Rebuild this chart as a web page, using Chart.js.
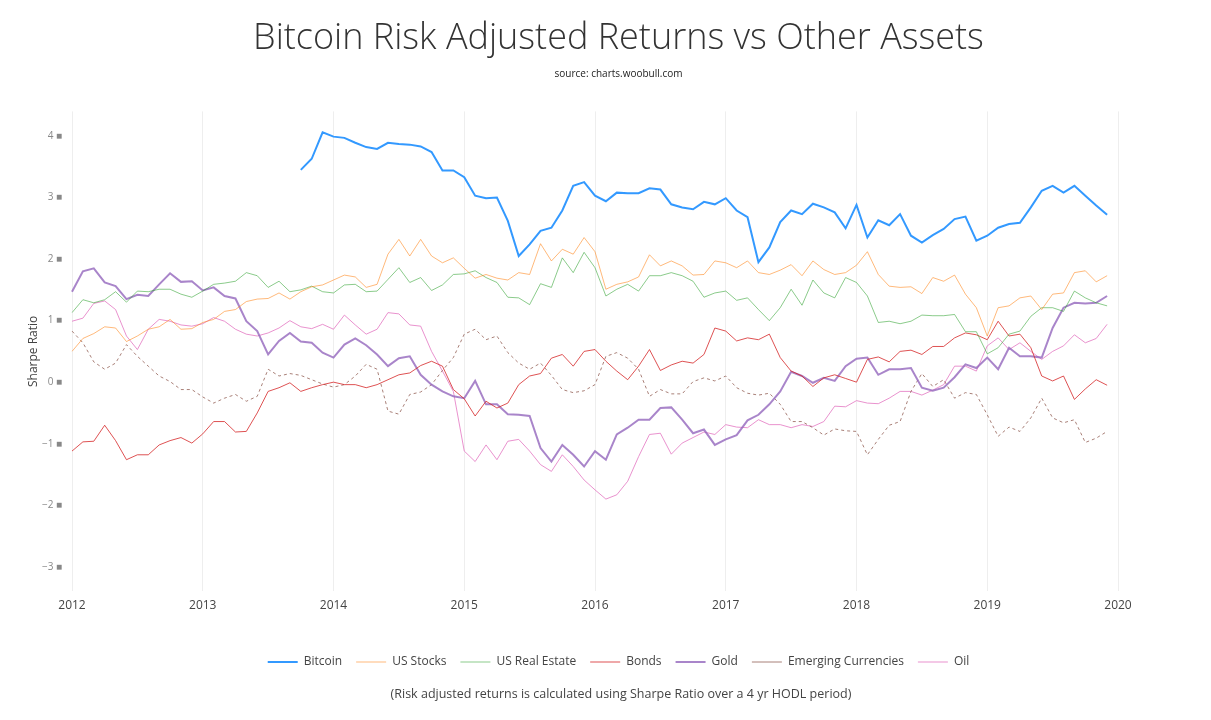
<!DOCTYPE html>
<html>
<head>
<meta charset="utf-8">
<script src="https://cdn.jsdelivr.net/npm/chart.js@4.4.1/dist/chart.umd.min.js"></script>
<style>
  html, body { margin: 0; padding: 0; background: #fff; }
  #wrap { width: 1211px; height: 720px; }
</style>
</head>
<body>
<div id="wrap"><canvas id="riskChart" width="1211" height="720"></canvas></div>
<script>
// monthly samples, Jan 2012 .. Jan 2020
const years = [2012, 2013, 2014, 2015, 2016, 2017, 2018, 2019];
const monthNames = ['01', '02', '03', '04', '05', '06', '07', '08', '09', '10', '11', '12'];
const months = [];
years.forEach(y => monthNames.forEach(m => months.push(y + '-' + m)));
months.push('2020-01');

const bitcoin = [
  null, null, null, null, null, null, null, null, null, null, null, null,
  null, null, null, null, null, null, null, null, null, 3.45, 3.63, 4.06,
  3.99, 3.97, 3.89, 3.82, 3.79, 3.89, 3.87, 3.86, 3.83, 3.74, 3.44, 3.44,
  3.33, 3.03, 2.99, 3.00, 2.62, 2.05, 2.24, 2.46, 2.51, 2.79, 3.19, 3.25,
  3.03, 2.94, 3.08, 3.07, 3.07, 3.15, 3.13, 2.89, 2.84, 2.81, 2.93, 2.89,
  2.99, 2.79, 2.68, 1.95, 2.19, 2.60, 2.79, 2.73, 2.90, 2.84, 2.76, 2.50,
  2.88, 2.35, 2.63, 2.55, 2.73, 2.38, 2.27, 2.39, 2.49, 2.65, 2.69, 2.30,
  2.38, 2.51, 2.57, 2.59, 2.84, 3.11, 3.19, 3.08, 3.19, 3.03, 2.87, 2.72,
  null
];
const usStocks = [
  0.50, 0.71, 0.79, 0.90, 0.88, 0.66, 0.75, 0.86, 0.90, 1.02, 0.86, 0.87,
  0.97, 1.02, 1.15, 1.18, 1.31, 1.35, 1.36, 1.45, 1.35, 1.47, 1.55, 1.58,
  1.66, 1.74, 1.71, 1.54, 1.59, 2.08, 2.32, 2.05, 2.32, 2.05, 1.94, 2.02,
  1.85, 1.69, 1.75, 1.69, 1.66, 1.78, 1.75, 2.25, 1.97, 2.16, 2.08, 2.35,
  2.12, 1.51, 1.59, 1.63, 1.71, 2.07, 1.89, 1.97, 1.89, 1.74, 1.75, 1.97,
  1.94, 1.86, 1.97, 1.78, 1.75, 1.82, 1.91, 1.73, 1.97, 1.83, 1.75, 1.78,
  1.90, 2.12, 1.75, 1.56, 1.54, 1.55, 1.44, 1.70, 1.64, 1.74, 1.43, 1.21,
  0.75, 1.21, 1.24, 1.37, 1.40, 1.18, 1.43, 1.45, 1.78, 1.81, 1.63, 1.73,
  null
];
const usRealEstate = [
  1.13, 1.34, 1.29, 1.34, 1.47, 1.30, 1.48, 1.47, 1.51, 1.51, 1.43, 1.38,
  1.48, 1.59, 1.61, 1.64, 1.78, 1.73, 1.54, 1.64, 1.47, 1.50, 1.56, 1.47,
  1.45, 1.58, 1.59, 1.47, 1.48, 1.67, 1.86, 1.62, 1.70, 1.49, 1.58, 1.75,
  1.76, 1.81, 1.70, 1.62, 1.38, 1.37, 1.26, 1.60, 1.54, 2.02, 1.78, 2.11,
  1.86, 1.40, 1.51, 1.59, 1.48, 1.73, 1.73, 1.78, 1.73, 1.64, 1.38, 1.45,
  1.48, 1.33, 1.37, 1.18, 1.00, 1.21, 1.51, 1.25, 1.66, 1.45, 1.37, 1.70,
  1.62, 1.40, 0.97, 0.99, 0.95, 0.99, 1.09, 1.08, 1.08, 1.10, 0.82, 0.82,
  0.46, 0.56, 0.78, 0.83, 1.07, 1.21, 1.21, 1.15, 1.48, 1.37, 1.29, 1.24,
  null
];
const bonds = [
  -1.12, -0.97, -0.96, -0.70, -0.95, -1.26, -1.18, -1.18, -1.02, -0.95, -0.90, -0.99,
  -0.84, -0.64, -0.64, -0.81, -0.80, -0.50, -0.15, -0.09, -0.01, -0.15, -0.09, -0.04,
  0.00, -0.04, -0.04, -0.09, -0.04, 0.04, 0.12, 0.15, 0.27, 0.34, 0.26, -0.12,
  -0.27, -0.55, -0.31, -0.42, -0.34, -0.04, 0.10, 0.14, 0.39, 0.45, 0.26, 0.50,
  0.53, 0.34, 0.18, 0.04, 0.26, 0.53, 0.19, 0.28, 0.34, 0.31, 0.45, 0.88,
  0.83, 0.67, 0.72, 0.69, 0.78, 0.40, 0.18, 0.10, -0.07, 0.07, 0.12, 0.06,
  0.00, 0.37, 0.41, 0.33, 0.50, 0.52, 0.45, 0.58, 0.58, 0.72, 0.80, 0.77,
  0.69, 0.99, 0.75, 0.78, 0.56, 0.10, 0.02, 0.10, -0.28, -0.11, 0.04, -0.05,
  null
];
const gold = [
  1.47, 1.80, 1.85, 1.62, 1.56, 1.35, 1.42, 1.40, 1.59, 1.77, 1.63, 1.64,
  1.49, 1.54, 1.40, 1.36, 0.99, 0.83, 0.45, 0.67, 0.80, 0.66, 0.64, 0.48,
  0.40, 0.61, 0.71, 0.60, 0.45, 0.26, 0.39, 0.42, 0.12, -0.04, -0.15, -0.23,
  -0.26, 0.02, -0.36, -0.36, -0.52, -0.53, -0.55, -1.07, -1.29, -1.02, -1.18, -1.37,
  -1.12, -1.26, -0.85, -0.74, -0.61, -0.61, -0.42, -0.41, -0.61, -0.83, -0.77, -1.02,
  -0.93, -0.86, -0.62, -0.53, -0.36, -0.15, 0.17, 0.10, -0.01, 0.07, 0.02, 0.26,
  0.38, 0.40, 0.12, 0.21, 0.21, 0.23, -0.09, -0.14, -0.09, 0.08, 0.29, 0.23,
  0.40, 0.21, 0.56, 0.42, 0.42, 0.40, 0.88, 1.21, 1.29, 1.28, 1.29, 1.40,
  null
];
const emergingCurrencies = [
  0.83, 0.64, 0.33, 0.21, 0.31, 0.61, 0.42, 0.26, 0.10, 0.01, -0.12, -0.12,
  -0.24, -0.34, -0.26, -0.20, -0.31, -0.23, 0.21, 0.10, 0.14, 0.11, 0.04, -0.03,
  -0.08, -0.04, 0.10, 0.29, 0.21, -0.47, -0.52, -0.20, -0.16, -0.04, 0.19, 0.40,
  0.78, 0.86, 0.69, 0.75, 0.48, 0.31, 0.21, 0.31, 0.11, -0.12, -0.17, -0.14,
  -0.04, 0.42, 0.48, 0.39, 0.21, -0.23, -0.12, -0.19, -0.19, 0.01, 0.07, 0.02,
  0.10, -0.09, -0.18, -0.21, -0.18, -0.36, -0.64, -0.64, -0.74, -0.86, -0.76, -0.79,
  -0.80, -1.18, -0.93, -0.70, -0.64, -0.15, 0.14, -0.07, 0.04, -0.26, -0.17, -0.20,
  -0.53, -0.88, -0.73, -0.80, -0.58, -0.26, -0.58, -0.66, -0.61, -0.98, -0.91, -0.80,
  null
];
const oil = [
  0.99, 1.04, 1.28, 1.32, 1.18, 0.75, 0.53, 0.86, 1.02, 0.99, 0.93, 0.91,
  0.95, 1.05, 0.99, 0.86, 0.78, 0.75, 0.80, 0.88, 1.00, 0.90, 0.87, 0.94,
  0.86, 1.09, 0.93, 0.78, 0.86, 1.13, 1.11, 0.93, 0.91, 0.50, 0.18, -0.15,
  -1.12, -1.29, -1.02, -1.26, -0.96, -0.93, -1.12, -1.34, -1.45, -1.18, -1.37, -1.59,
  -1.75, -1.90, -1.83, -1.61, -1.21, -0.85, -0.83, -1.17, -0.99, -0.90, -0.81, -0.85,
  -0.69, -0.73, -0.74, -0.61, -0.69, -0.69, -0.74, -0.69, -0.72, -0.64, -0.39, -0.40,
  -0.30, -0.34, -0.35, -0.26, -0.15, -0.15, -0.21, -0.13, -0.04, 0.26, 0.26, 0.18,
  0.59, 0.72, 0.53, 0.64, 0.50, 0.37, 0.50, 0.59, 0.77, 0.64, 0.71, 0.94,
  null
];

const titleText = 'Bitcoin Risk Adjusted Returns vs Other Assets';
const sourceText = 'source: charts.woobull.com';
const footnoteText = '(Risk adjusted returns is calculated using Sharpe Ratio over a 4 yr HODL period)';

// draws the note under the legend
const footnotePlugin = {
  id: 'footnote',
  afterDraw(chart) {
    const ctx = chart.ctx;
    ctx.save();
    ctx.font = '12.5px "Open Sans"';
    ctx.fillStyle = '#444';
    ctx.textAlign = 'center';
    ctx.textBaseline = 'middle';
    ctx.fillText(footnoteText, 621, 694);
    ctx.restore();
  }
};

function series(label, data, color, width, dash) {
  return {
    label: label,
    data: data,
    borderColor: color,
    backgroundColor: color,
    borderWidth: width,
    borderDash: dash || [],
    pointRadius: 0,
    pointHoverRadius: 0,
    pointStyle: 'line',
    tension: 0,
    fill: false,
    spanGaps: false
  };
}

let ctx = document.getElementById('riskChart').getContext('2d');
let riskChart = new Chart(ctx, {
  type: 'line',
  data: {
    labels: months,
    datasets: [
      series('Bitcoin', bitcoin, 'rgb(51, 153, 255)', 2),
      series('US Stocks', usStocks, 'rgba(255, 127, 14, 0.55)', 1),
      series('US Real Estate', usRealEstate, 'rgba(44, 160, 44, 0.55)', 1),
      series('Bonds', bonds, 'rgba(214, 39, 40, 0.8)', 1),
      series('Gold', gold, 'rgba(148, 103, 189, 0.8)', 2),
      series('Emerging Currencies', emergingCurrencies, 'rgba(140, 86, 75, 0.75)', 1, [3, 3]),
      series('Oil', oil, 'rgba(227, 119, 194, 0.8)', 1)
    ]
  },
  options: {
    responsive: false,
    devicePixelRatio: 1,
    animation: false,
    layout: {
      padding: { left: 26, right: 0, top: 0, bottom: 42 }
    },
    plugins: {
      title: {
        display: true,
        text: titleText,
        color: '#333',
        font: { family: 'Open Sans', size: 36, weight: 300, lineHeight: 1.2 },
        padding: { top: 17, bottom: 0 }
      },
      subtitle: {
        display: true,
        text: sourceText,
        color: '#222',
        font: { family: 'Open Sans', size: 10, weight: 'normal', lineHeight: 1.2 },
        padding: { top: 8, bottom: 31.2 }
      },
      legend: {
        position: 'bottom',
        labels: {
          usePointStyle: true,
          pointStyle: 'line',
          pointStyleWidth: 30,
          padding: 14,
          color: '#444',
          font: { family: 'Open Sans', size: 12 }
        }
      },
      tooltip: { enabled: false }
    },
    scales: {
      x: {
        grid: { color: '#eeeeee', drawTicks: false },
        border: { display: false },
        ticks: {
          autoSkip: false,
          maxRotation: 0,
          padding: 7,
          color: '#444',
          font: { family: 'Open Sans', size: 12 },
          callback: function (value) {
            const label = this.getLabelForValue(value);
            return label.endsWith('-01') ? label.slice(0, 4) : null;
          }
        },
        afterFit: function (scale) { scale.height = 50.6; }
      },
      y: {
        min: -3.4,
        max: 4.4,
        grid: { display: false },
        border: { display: false },
        title: {
          display: true,
          text: 'Sharpe Ratio',
          color: '#444',
          font: { family: 'Open Sans', size: 12 },
          padding: { top: 0, bottom: 4 }
        },
        ticks: {
          stepSize: 1,
          includeBounds: false,
          padding: 2,
          color: '#888',
          font: { family: 'Open Sans', size: 10 },
          callback: function (value) {
            const txt = value < 0 ? '\u2212' + Math.abs(value) : String(value);
            return txt + ' \u25A0';
          }
        },
        afterFit: function (scale) { scale.width = 46; }
      },
      yRight: {
        position: 'right',
        grid: { display: false },
        border: { display: false },
        ticks: { display: false },
        afterFit: function (scale) { scale.width = 93; }
      }
    }
  },
  plugins: [footnotePlugin]
});
</script>
</body>
</html>
